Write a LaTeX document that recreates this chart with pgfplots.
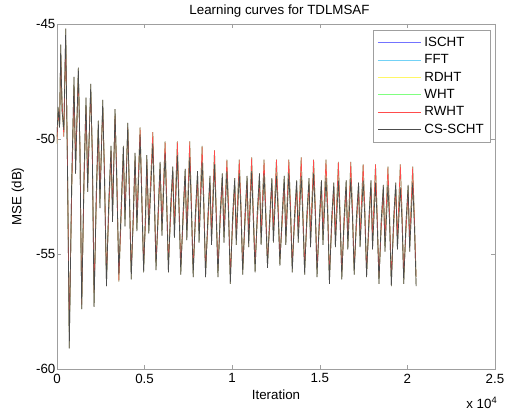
\documentclass[border=0pt]{standalone}
\usepackage{fontspec}
\setmainfont{Liberation Sans}
\usepackage{pgfplots}
\usepackage{pgfplotstable}
\pgfplotsset{compat=1.18}
\pgfplotstableread{
x k r
0 -49.9 -50.2
60 -48.6 -49.0
150 -49.5 -49.3
211 -45.9 -46.3
290 -48.8 -48.4
390 -49.6 -49.9
497 -45.2 -45.7
600 -51.5 -51.0
703 -59.1 -58.4
833 -52.0 -52.6
971 -47.3 -47.8
1060 -51.5 -51.0
1219 -46.9 -47.2
1310 -50.5 -50.2
1410 -57.4 -57.2
1540 -51.6 -52.1
1657 -48.2 -48.6
1750 -52.3 -51.8
1926 -47.6 -47.9
2020 -51.0 -50.6
2117 -57.3 -56.7
2240 -52.4 -52.9
2360 -49.2 -49.5
2450 -53.0 -52.4
2611 -48.3 -48.6
2710 -51.8 -51.3
2824 -56.4 -56.0
2950 -52.8 -53.3
3086 -50.3 -50.5
3170 -53.6 -53.0
3314 -48.7 -49.0
3420 -52.2 -51.7
3531 -55.9 -56.2
3660 -53.0 -53.4
3789 -50.3 -50.6
3880 -53.8 -53.2
4040 -49.3 -49.5
4130 -52.5 -52.0
4238 -56.1 -55.7
4360 -53.1 -53.5
4457 -50.6 -50.9
4560 -54.0 -53.4
4743 -49.8 -49.5
4840 -52.7 -52.3
4945 -55.8 -55.5
5060 -53.0 -53.5
5126 -50.7 -51.0
5240 -54.1 -53.6
5469 -50.2 -49.7
5560 -52.8 -52.4
5652 -55.7 -55.3
5770 -53.2 -53.6
5886 -51.0 -51.3
5990 -54.2 -53.7
6171 -50.6 -50.1
6260 -52.9 -52.5
6359 -55.8 -55.4
6480 -53.0 -53.5
6610 -51.2 -51.5
6700 -54.3 -53.8
6870 -50.7 -50.1
6960 -53.0 -52.6
7066 -55.9 -55.5
7190 -53.3 -53.7
7316 -51.3 -51.6
7410 -54.4 -53.9
7576 -50.8 -50.1
7670 -53.1 -52.7
7773 -56.0 -55.6
7900 -53.2 -53.6
8023 -51.4 -51.7
8110 -54.5 -54.0
8283 -51.0 -50.3
8380 -53.0 -52.6
8480 -56.0 -55.7
8610 -53.4 -53.8
8730 -51.6 -51.9
8820 -54.6 -54.1
8990 -51.1 -50.5
9080 -53.2 -52.8
9187 -56.0 -55.6
9310 -53.3 -53.7
9437 -51.5 -51.8
9530 -54.5 -54.0
9697 -51.4 -50.9
9790 -53.3 -52.9
9894 -56.3 -55.9
10020 -53.4 -53.8
10144 -51.7 -52.0
10230 -54.6 -54.1
10404 -51.5 -50.9
10500 -53.2 -52.8
10601 -55.9 -55.6
10730 -53.3 -53.7
10851 -51.6 -51.9
10940 -54.7 -54.2
11111 -51.4 -50.8
11200 -53.4 -53.0
11308 -55.8 -55.4
11430 -53.2 -53.6
11558 -51.5 -51.8
11650 -54.6 -54.1
11818 -51.5 -50.9
11910 -53.3 -52.9
12015 -55.6 -55.3
12140 -53.4 -53.8
12265 -51.7 -52.0
12350 -54.5 -54.0
12525 -51.6 -50.9
12620 -53.2 -52.8
12722 -55.5 -55.2
12850 -53.3 -53.7
12972 -51.6 -51.9
13060 -54.6 -54.2
13232 -51.5 -50.9
13330 -53.3 -52.9
13429 -55.8 -55.4
13550 -53.4 -53.8
13679 -51.8 -52.1
13770 -54.5 -54.0
13939 -51.6 -50.8
14030 -53.4 -53.0
14136 -55.9 -55.5
14260 -53.3 -53.7
14386 -51.7 -52.0
14470 -54.7 -54.2
14646 -51.5 -50.9
14740 -53.2 -52.8
14843 -56.0 -55.6
14970 -53.5 -53.9
15093 -51.8 -52.1
15180 -54.6 -54.1
15353 -51.7 -50.9
15450 -53.3 -52.9
15550 -56.3 -55.9
15680 -53.4 -53.8
15800 -51.9 -52.2
15890 -54.7 -54.2
16060 -51.8 -51.0
16150 -53.4 -53.0
16257 -56.1 -55.8
16380 -53.5 -53.9
16507 -51.8 -52.1
16600 -54.8 -54.3
16767 -51.7 -51.0
16860 -53.3 -52.9
16964 -55.9 -55.6
17090 -53.4 -53.8
17214 -51.9 -52.2
17300 -54.7 -54.2
17474 -51.8 -51.1
17570 -53.4 -53.0
17671 -56.0 -55.7
17800 -53.5 -53.9
17921 -51.8 -52.1
18010 -54.8 -54.3
18181 -51.9 -51.1
18270 -53.5 -53.1
18378 -56.3 -56.0
18500 -53.6 -54.0
18628 -52.0 -52.3
18720 -54.9 -54.4
18888 -52.0 -51.2
18980 -53.6 -53.2
19085 -56.4 -56.0
19210 -53.5 -53.9
19335 -51.9 -52.2
19430 -54.8 -54.3
19595 -52.1 -51.1
19690 -53.5 -53.1
19792 -56.3 -55.9
19920 -53.6 -54.0
20042 -52.0 -52.3
20130 -54.9 -54.4
20302 -51.9 -51.2
20400 -53.8 -53.4
20499 -56.4 -56.0
}\datatable
\begin{document}
\begin{tikzpicture}
\useasboundingbox (-42.75pt,-33.75pt) rectangle (341.25pt,276.75pt);
\begin{axis}[
  scale only axis,
  width=328.5pt, height=258.75pt,
  xmin=0, xmax=25000, ymin=-60, ymax=-45,
  xtick={0,5000,10000,15000,20000,25000},
  xticklabels={0,0.5,1,1.5,2,2.5},
  scaled x ticks=false,
  ytick={-60,-55,-50,-45},
  yticklabels={-60,-55,-50,-45},
  axis line style={gray!75},
  tick style={gray!75},
  tick align=inside,
  major tick length=3pt,
  yticklabel style={inner xsep=1pt},
  clip mode=individual,
  every axis title shift=0pt,
  title={Learning curves for TDLMSAF},
  title style={at={(axis description cs:0.508,1.038)},anchor=center,yshift=0pt},
  xlabel={Iteration},
  xlabel style={at={(axis description cs:0.5,-0.075)},anchor=center},
  ylabel={MSE (dB)},
  ylabel style={at={(axis description cs:-0.089,0.5)},anchor=center},
  legend style={at={(0.99,0.982)},anchor=north east,draw=gray!75,
    font=\normalsize,row sep=0.6pt,inner xsep=3pt,inner ysep=3pt},
  legend cell align=left,
  every axis plot post/.append style={
    legend image code/.code={\draw[##1] (0cm,0cm) -- (1.15cm,0cm);}},
  every axis plot/.append style={line width=0.5pt},
]
\addplot[blue!55, no markers] table[x=x,y=k] {\datatable};
\addlegendentry{ISCHT}
\addplot[cyan!55, no markers] table[x=x,y=r] {\datatable};
\addlegendentry{FFT}
\addplot[yellow!60, no markers] table[x=x,y=k] {\datatable};
\addlegendentry{RDHT}
\addplot[green!50, no markers] table[x=x,y=r] {\datatable};
\addlegendentry{WHT}
\addplot[red!70, no markers] table[x=x,y=r] {\datatable};
\addlegendentry{RWHT}
\addplot[black!70, no markers] table[x=x,y=k] {\datatable};
\addlegendentry{CS-SCHT}
\node[anchor=center] at (axis description cs:0.97,-0.099) {x 10\textsuperscript{4}};
\end{axis}
\end{tikzpicture}
\end{document}
